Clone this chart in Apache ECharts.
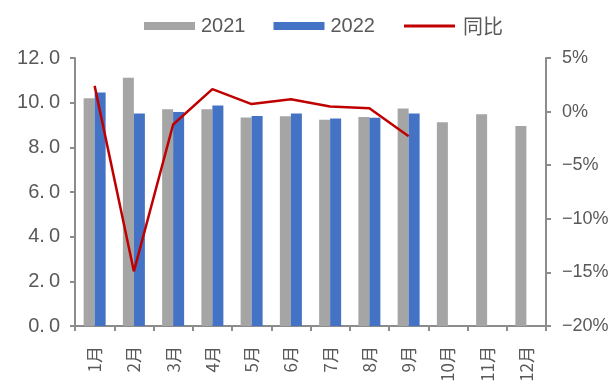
<!DOCTYPE html>
<html>
<head>
<meta charset="utf-8">
<script src="https://cdn.jsdelivr.net/npm/echarts@6/dist/echarts.min.js"></script>
<style>
  html, body { margin: 0; padding: 0; background: #fff; }
  #chart { width: 613px; height: 388px; }
</style>
</head>
<body>
<div id="chart"></div>
<script>
// Monthly values for 2021 and 2022, plus year-on-year change (%)
const months = ['1月', '2月', '3月', '4月', '5月', '6月', '7月', '8月', '9月', '10月', '11月', '12月'];
const values2021 = [10.2, 11.12, 9.7, 9.7, 9.34, 9.39, 9.24, 9.36, 9.74, 9.12, 9.48, 8.95];
const values2022 = [10.45, 9.52, 9.58, 9.87, 9.4, 9.52, 9.29, 9.33, 9.52, null, null, null];
const yoyChange = [2.4, -14.9, -1.2, 2.1, 0.7, 1.15, 0.47, 0.32, -2.3, null, null, null];

const leftTicks = { min: 0, max: 12, interval: 2 };
const rightTicks = { min: -20, max: 5, interval: 5 };

const axisGray = '#8c8c8c';
const textGray = '#595959';
const latinFont = '"Liberation Sans", "Noto Sans CJK SC", sans-serif';
const cjkFont = '"Noto Sans CJK SC", "Liberation Sans", sans-serif';

const chart = echarts.init(document.getElementById('chart'), null, { renderer: 'canvas' });
chart.setOption({
  animation: false,
  backgroundColor: '#ffffff',
  legend: [
    {
      top: 11,
      left: 139,
      itemWidth: 51,
      itemHeight: 8,
      itemGap: 28,
      textStyle: { color: textGray, fontSize: 20, fontFamily: latinFont, padding: [0, 0, 0, 1] },
      data: [
        { name: '2021', icon: 'rect' },
        { name: '2022', icon: 'rect' }
      ]
    },
    {
      top: 11,
      left: 399,
      itemWidth: 51,
      itemHeight: 3,
      textStyle: { color: textGray, fontSize: 20, fontFamily: cjkFont, padding: [0, 0, 0, 3] },
      data: [{ name: '同比', icon: 'rect' }]
    }
  ],
  grid: { left: 75, right: 67, top: 58, bottom: 62, containLabel: false },
  xAxis: {
    type: 'category',
    data: months,
    boundaryGap: true,
    axisLine: { lineStyle: { color: axisGray, width: 2 } },
    axisTick: { show: true, length: 5, lineStyle: { color: axisGray, width: 2 } },
    axisLabel: { rotate: 90, color: textGray, fontSize: 17, margin: 20, interval: 0, fontFamily: cjkFont }
  },
  yAxis: [
    {
      type: 'value',
      min: leftTicks.min, max: leftTicks.max, interval: leftTicks.interval,
      position: 'left',
      axisLine: { show: true, lineStyle: { color: axisGray, width: 2 } },
      axisTick: { show: true, length: 5, lineStyle: { color: axisGray, width: 2 } },
      splitLine: { show: false },
      axisLabel: {
        color: textGray, margin: 15,
        formatter: v => {
          const s = v.toFixed(1).split('.');
          return '{i|' + s[0] + '.}{d|' + s[1] + '}';
        },
        rich: {
          i: { fontSize: 20, fontFamily: latinFont, color: textGray },
          d: { fontSize: 20, fontFamily: latinFont, color: textGray, padding: [0, 0, 0, 4] }
        }
      }
    },
    {
      type: 'value',
      min: rightTicks.min, max: rightTicks.max, interval: rightTicks.interval,
      position: 'right',
      axisLine: { show: true, lineStyle: { color: axisGray, width: 2 } },
      axisTick: { show: true, length: 5, lineStyle: { color: axisGray, width: 2 } },
      splitLine: { show: false },
      axisLabel: {
        color: textGray, fontSize: 18, margin: 16, fontFamily: latinFont,
        formatter: v => (v < 0 ? '\u2212' + Math.abs(v) : v) + '%'
      }
    }
  ],
  series: [
    {
      name: '2021', type: 'bar', yAxisIndex: 0, data: values2021,
      itemStyle: { color: '#a5a5a5' },
      barWidth: 11, barGap: '0%'
    },
    {
      name: '2022', type: 'bar', yAxisIndex: 0, data: values2022,
      itemStyle: { color: '#4472c4' },
      barWidth: 11
    },
    {
      name: '同比', type: 'line', yAxisIndex: 1, data: yoyChange,
      showSymbol: false, symbol: 'none',
      lineStyle: { color: '#c00000', width: 2.5 },
      itemStyle: { color: '#c00000' },
      z: 5
    }
  ]
});
</script>
</body>
</html>
